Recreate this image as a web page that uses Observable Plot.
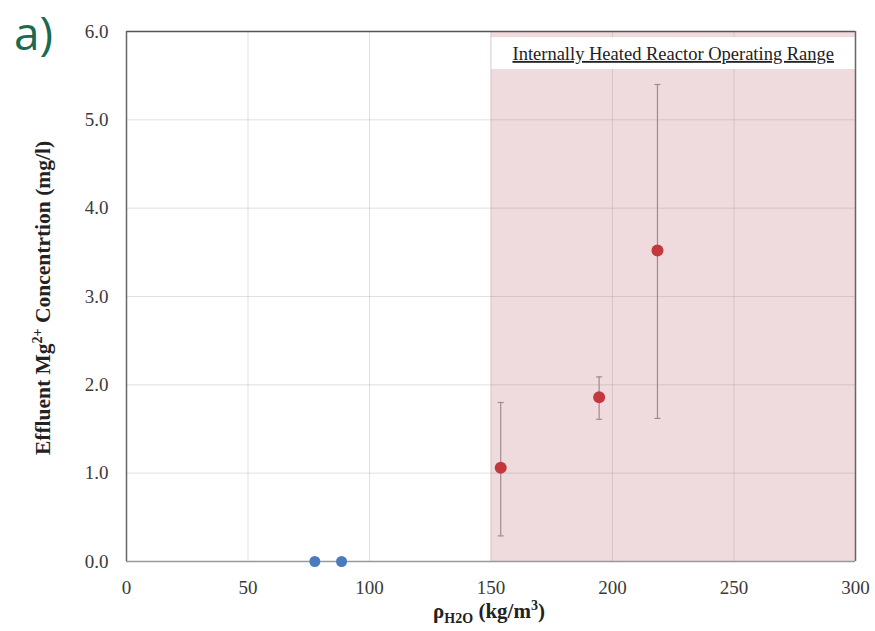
<!DOCTYPE html>
<html>
<head>
<meta charset="utf-8">
<script src="https://cdn.jsdelivr.net/npm/d3@7"></script>
<script src="https://cdn.jsdelivr.net/npm/@observablehq/plot@0.6"></script>
<style>
  body { margin: 0; background: #fff; }
  #wrap { position: relative; width: 875px; height: 631px; }
  #tag { position: absolute; left: 14px; top: 7px; font-family: "Open Sans", "Liberation Sans", sans-serif; font-size: 46px; color: #1b6a4e; line-height: 1.1; z-index: 2; }
</style>
</head>
<body>
<div id="wrap"><div id="tag">a)</div></div>
<script>
// Data
const blueX = [77.5, 88.5];
const blueY = [0, 0];
const redX = [154, 194.5, 218.5];
const redY = [1.06, 1.86, 3.52];
const redLow = [0.29, 1.61, 1.62];
const redHigh = [1.80, 2.09, 5.40];
const xTicks = [0, 50, 100, 150, 200, 250, 300];
const yTicks = [0, 1, 2, 3, 4, 5, 6];
const rangeStart = 150, rangeEnd = 300;
const rangeLabel = "Internally Heated Reactor Operating Range";

const blue = blueX.map((x, i) => ({x, y: blueY[i]}));
const red = redX.map((x, i) => ({x, y: redY[i], lo: redLow[i], hi: redHigh[i]}));

const cap = {draw(ctx, size) { ctx.moveTo(-3, 0); ctx.lineTo(3, 0); }};

const plot = Plot.plot({
  width: 875, height: 631,
  marginLeft: 126, marginRight: 20, marginTop: 31, marginBottom: 70,
  style: {fontFamily: "'Liberation Serif', 'DejaVu Serif', serif", fontSize: "19px", color: "#3a3a3a"},
  x: {domain: [0, 300], ticks: xTicks, tickSize: 0, tickPadding: 19, label: null},
  y: {domain: [0, 6], ticks: yTicks, tickSize: 0, tickPadding: 18, tickFormat: d3.format(".1f"), label: null},
  marks: [
    Plot.rect([{x1: rangeStart, x2: rangeEnd}], {x1: "x1", x2: "x2", y1: 0, y2: 6, fill: "#efdadd"}),
    Plot.gridX(xTicks.filter(d => d > 0 && d < 300), {stroke: "#888", strokeOpacity: 0.25}),
    Plot.gridY(yTicks.filter(d => d > 0 && d < 6), {stroke: "#888", strokeOpacity: 0.25}),
    Plot.rect([{x1: rangeStart, x2: rangeEnd}], {x1: "x1", x2: "x2", y1: 5.57, y2: 5.93, fill: "#fff", insetLeft: 1}),
    Plot.text([rangeLabel], {x: 225, y: 5.745, text: d => d, fontSize: 18.5, fill: "#222"}),
    Plot.ruleY([0], {stroke: "#999", strokeWidth: 1.5}),
    Plot.ruleY([6], {stroke: "#555", strokeWidth: 1.5}),
    Plot.ruleX([0, 300], {stroke: "#666", strokeWidth: 1.5}),
    Plot.ruleX(red, {x: "x", y1: "lo", y2: "hi", stroke: "#a08a8c", strokeWidth: 1.2}),
    Plot.dot(red, {x: "x", y: "lo", symbol: cap, stroke: "#a08a8c", strokeWidth: 1.2}),
    Plot.dot(red, {x: "x", y: "hi", symbol: cap, stroke: "#a08a8c", strokeWidth: 1.2}),
    Plot.dot(red, {x: "x", y: "y", r: 6, fill: "#c1393c"}),
    Plot.dot(blue, {x: "x", y: "y", r: 5.5, fill: "#4a7bbf"})
  ]
});

const svg = d3.select(plot);
svg.selectAll("text").filter(function() { return this.textContent === rangeLabel; })
  .style("text-decoration", "underline");

// Axis titles with sub/superscripts
svg.append("text")
  .attr("transform", "translate(50,298) rotate(-90)")
  .attr("text-anchor", "middle")
  .attr("font-family", "'Liberation Serif', serif")
  .attr("font-weight", "bold").attr("font-size", 21.5).attr("fill", "#222")
  .call(t => {
    t.append("tspan").text("Effluent Mg");
    t.append("tspan").attr("dy", -8).attr("font-size", 14).text("2+");
    t.append("tspan").attr("dy", 8).text(" Concentrtion (mg/l)");
  });
svg.append("text")
  .attr("x", 489).attr("y", 618)
  .attr("text-anchor", "middle")
  .attr("font-family", "'Liberation Serif', serif")
  .attr("font-weight", "bold").attr("font-size", 21).attr("fill", "#222")
  .call(t => {
    t.append("tspan").text("ρ");
    t.append("tspan").attr("dy", 5).attr("font-size", 14).text("H2O");
    t.append("tspan").attr("dy", -5).text(" (kg/m");
    t.append("tspan").attr("dy", -8).attr("font-size", 14).text("3");
    t.append("tspan").attr("dy", 8).text(")");
  });

document.getElementById("wrap").appendChild(plot);
</script>
</body>
</html>
